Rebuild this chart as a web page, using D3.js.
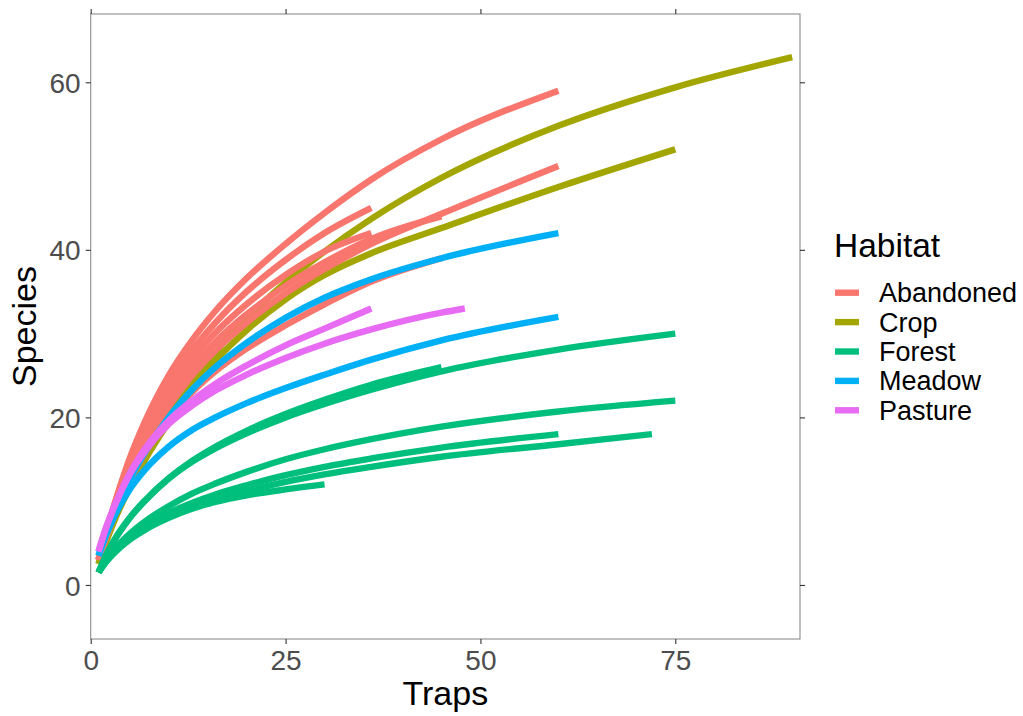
<!DOCTYPE html>
<html>
<head>
<meta charset="utf-8">
<script src="https://cdn.jsdelivr.net/npm/d3@7"></script>
<style>
  html, body { margin: 0; padding: 0; background: #ffffff; }
  svg { display: block; font-family: "Liberation Sans", Arial, sans-serif; }
</style>
</head>
<body>
<svg id="chart" width="1023" height="716"></svg>
<script>
// ---------------- data ----------------
const habitats = ["Abandoned", "Crop", "Forest", "Meadow", "Pasture"];
const habitatColors = ["#F8766D", "#A3A500", "#00BF7D", "#00B0F6", "#E76BF3"];

const xTicks = [0, 25, 50, 75];
const yTicks = [0, 20, 40, 60];

const trapGrid = [1, 2, 3, 5, 7, 10, 13, 16, 20, 25, 30, 36, 45, 60, 75, 90];

// one rarefaction curve per site (listed in drawing order)
const siteHabitat = [
  "Crop", "Crop",
  "Abandoned", "Abandoned", "Abandoned", "Abandoned", "Abandoned", "Abandoned",
  "Meadow", "Meadow",
  "Pasture", "Pasture",
  "Forest", "Forest", "Forest", "Forest", "Forest", "Forest"
];
const siteTrapsMax = [90, 75, 60, 60, 36, 36, 45, 45, 60, 60, 36, 48, 75, 45, 75, 60, 72, 30];
const siteSpecies = [
  [2.5, 5.3, 7.8, 12.0, 15.6, 20.2, 24.3, 27.8, 31.8, 36.1, 39.8, 43.7, 48.6, 54.8, 59.4, 63],
  [2.5, 5.2, 7.6, 11.6, 15.0, 19.4, 23.4, 26.8, 30.4, 34.1, 37.0, 39.6, 42.6, 47.5, 52],
  [3, 6.4, 9.5, 15.1, 19.6, 25.0, 29.2, 32.7, 36.6, 40.7, 44.4, 48.4, 53.2, 59],
  [3, 5.9, 8.6, 13.2, 16.9, 21.3, 25.0, 28.0, 31.3, 34.8, 37.7, 40.7, 44.3, 50],
  [3, 6.3, 9.4, 14.8, 19.0, 24.0, 28.0, 31.3, 35.0, 38.8, 42.0, 45],
  [3, 6.2, 9.2, 14.4, 18.4, 23.2, 27.0, 30.1, 33.5, 37.0, 39.8, 42],
  [3, 6.1, 9.0, 13.9, 17.8, 22.4, 26.0, 29.0, 32.3, 35.7, 38.5, 41.3, 44],
  [3, 5.7, 8.2, 12.5, 15.8, 19.8, 23.0, 25.5, 28.2, 31.0, 33.5, 36.2, 39],
  [3.5, 6.2, 8.6, 12.6, 15.9, 20.0, 23.3, 26.0, 28.9, 31.9, 34.3, 36.5, 39.0, 42],
  [3.5, 6.0, 8.1, 11.4, 13.8, 16.5, 18.5, 20.0, 21.7, 23.5, 25.1, 26.9, 29.2, 32],
  [4, 6.9, 9.3, 13.3, 16.3, 19.6, 22.0, 24.0, 26.2, 28.6, 30.6, 33],
  [4, 6.9, 9.3, 13.2, 16.0, 19.2, 21.4, 23.2, 25.1, 27.1, 28.8, 30.5, 32.5, 33],
  [1.5, 3.6, 5.3, 8.0, 10.1, 12.7, 14.7, 16.3, 18.1, 20.0, 21.6, 23.3, 25.5, 28.1, 30],
  [1.5, 3.6, 5.3, 8.0, 10.1, 12.7, 14.8, 16.5, 18.4, 20.4, 22.1, 23.9, 26],
  [1.5, 3.0, 4.2, 6.1, 7.6, 9.4, 10.9, 12.1, 13.5, 15.0, 16.2, 17.4, 18.9, 20.7, 22],
  [1.5, 2.9, 4.0, 5.7, 7.0, 8.6, 9.8, 10.8, 11.9, 13.1, 14.1, 15.1, 16.4, 18],
  [1.5, 2.8, 3.9, 5.5, 6.7, 8.2, 9.3, 10.2, 11.2, 12.3, 13.2, 14.1, 15.3, 16.8, 18],
  [1.5, 2.8, 3.8, 5.4, 6.6, 8.0, 9.1, 9.9, 10.7, 11.4, 12]
];

// ---------------- layout ----------------
const svg = d3.select("#chart");
const panel = { left: 90.7, right: 800, top: 14, bottom: 639 };

const x = d3.scaleLinear().domain([0, 91]).range([panel.left, panel.right]);
const y = d3.scaleLinear().domain([-6.45, 68.15]).range([panel.bottom, panel.top]);
const color = d3.scaleOrdinal().domain(habitats).range(habitatColors);

// curves
const g = svg.append("g");
const line = d3.line()
  .x(d => x(d[0]))
  .y(d => y(d[1]))
  .curve(d3.curveMonotoneX);

siteHabitat.forEach((h, i) => {
  const maxT = siteTrapsMax[i];
  const traps = trapGrid.filter(t => t < maxT).concat([maxT]);
  const pts = traps.map((t, j) => [t, siteSpecies[i][j]]);
  g.append("path")
    .datum(pts)
    .attr("d", line)
    .attr("fill", "none")
    .attr("stroke", color(h))
    .attr("stroke-width", 6.4)
    .attr("stroke-linecap", "butt")
    .attr("stroke-linejoin", "round");
});

// panel border
svg.append("rect")
  .attr("x", panel.left).attr("y", panel.top)
  .attr("width", panel.right - panel.left).attr("height", panel.bottom - panel.top)
  .attr("fill", "none").attr("stroke", "#8c8c8c").attr("stroke-width", 1.1);

// axes
function styleAxis(sel, showText) {
  sel.select(".domain").remove();
  sel.selectAll(".tick line").attr("stroke", "#333333").attr("stroke-width", 1.1);
  sel.selectAll(".tick text")
    .attr("fill", "#4d4d4d")
    .style("font-size", "28px")
    .style("font-family", '"Liberation Sans", Arial, sans-serif');
  if (!showText) sel.selectAll(".tick text").remove();
}

const xAxisB = svg.append("g").attr("transform", `translate(0,${panel.bottom})`)
  .call(d3.axisBottom(x).tickValues(xTicks).tickSize(5).tickPadding(6).tickFormat(d3.format("d")));
styleAxis(xAxisB, true);
xAxisB.selectAll(".tick text").attr("dy", null).attr("y", 31);

const xAxisT = svg.append("g").attr("transform", `translate(0,${panel.top})`)
  .call(d3.axisTop(x).tickValues(xTicks).tickSize(5));
styleAxis(xAxisT, false);

const yAxisL = svg.append("g").attr("transform", `translate(${panel.left},0)`)
  .call(d3.axisLeft(y).tickValues(yTicks).tickSize(5).tickPadding(5).tickFormat(d3.format("d")));
styleAxis(yAxisL, true);
yAxisL.selectAll(".tick text").attr("dy", "0.36em");

const yAxisR = svg.append("g").attr("transform", `translate(${panel.right},0)`)
  .call(d3.axisRight(y).tickValues(yTicks).tickSize(5));
styleAxis(yAxisR, false);

// axis titles
svg.append("text")
  .attr("x", (panel.left + panel.right) / 2).attr("y", 705)
  .attr("text-anchor", "middle")
  .style("font-size", "34px").attr("fill", "#000")
  .text("Traps");

svg.append("text")
  .attr("transform", `translate(36,${(panel.top + panel.bottom) / 2}) rotate(-90)`)
  .attr("text-anchor", "middle")
  .style("font-size", "34px").attr("fill", "#000")
  .text("Species");

// legend
const legend = svg.append("g");
legend.append("text")
  .attr("x", 834).attr("y", 256.5)
  .style("font-size", "33.5px").attr("fill", "#000")
  .text("Habitat");

habitats.forEach((h, i) => {
  const cy = 292.7 + i * 29.4;
  legend.append("line")
    .attr("x1", 835).attr("x2", 859)
    .attr("y1", cy).attr("y2", cy)
    .attr("stroke", color(h)).attr("stroke-width", 6.4);
  legend.append("text")
    .attr("x", 879).attr("y", cy + 9.5)
    .style("font-size", "27px").attr("fill", "#000")
    .text(h);
});
</script>
</body>
</html>
